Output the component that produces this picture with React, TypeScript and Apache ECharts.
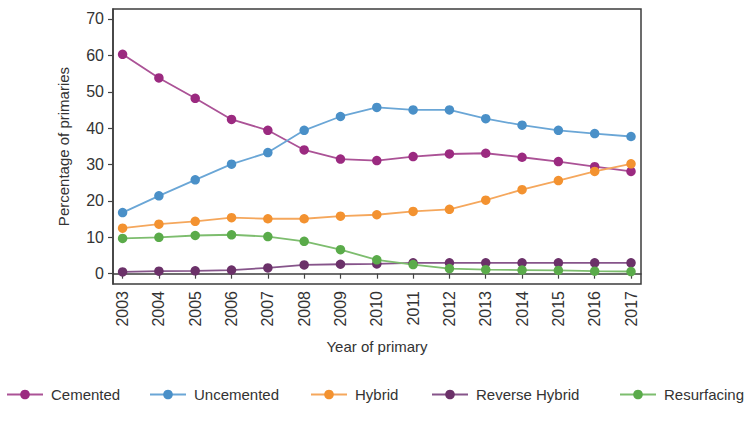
import React, { useEffect, useRef } from "react";
import * as echarts from "echarts";

const years = [2003, 2004, 2005, 2006, 2007, 2008, 2009, 2010, 2011, 2012, 2013, 2014, 2015, 2016, 2017];
const yTicks = [0, 10, 20, 30, 40, 50, 60, 70];

const seriesNames = ["Cemented", "Uncemented", "Hybrid", "Reverse Hybrid", "Resurfacing"];
const cemented = [60.3, 53.8, 48.2, 42.4, 39.4, 34.0, 31.5, 31.1, 32.2, 32.9, 33.1, 32.0, 30.8, 29.4, 28.1];
const uncemented = [16.8, 21.4, 25.8, 30.1, 33.3, 39.4, 43.2, 45.7, 45.0, 45.0, 42.6, 40.8, 39.4, 38.5, 37.7];
const hybrid = [12.5, 13.6, 14.4, 15.4, 15.1, 15.1, 15.8, 16.2, 17.1, 17.7, 20.2, 23.1, 25.6, 28.1, 30.2];
const reverseHybrid = [0.5, 0.7, 0.8, 1.0, 1.6, 2.4, 2.6, 2.7, 3.0, 3.0, 3.0, 3.0, 3.0, 3.0, 3.0];
const resurfacing = [9.7, 10.0, 10.5, 10.7, 10.2, 8.9, 6.6, 3.8, 2.5, 1.4, 1.1, 1.0, 0.9, 0.7, 0.6];

const seriesValues = [cemented, uncemented, hybrid, reverseHybrid, resurfacing];
const markerColors = ["#9b2a80", "#4a90c8", "#f39230", "#6b3169", "#5aab4a"];
const lineColors = ["#ab5296", "#6aa6d6", "#f5a75c", "#86548a", "#7dbd6e"];
const legendLefts = [6, 149, 310, 431, 619];

export default function App() {
  const ref = useRef<HTMLDivElement>(null);

  useEffect(() => {
    if (!ref.current) return;
    const chart = echarts.init(ref.current, null, { renderer: "svg" });
    const font = "'Liberation Sans', Arial, Helvetica, sans-serif";

    const series = seriesNames.map((name, i) => ({
      name,
      type: "line",
      data: years.map((y, j) => [y, seriesValues[i][j]]),
      symbol: "circle",
      symbolSize: 9.5,
      itemStyle: { color: markerColors[i] },
      lineStyle: { color: lineColors[i], width: 1.8 },
      emphasis: { disabled: true },
    }));

    const legends = seriesNames.map((name, i) => ({
      data: [name],
      left: legendLefts[i],
      top: 387,
      itemWidth: 36,
      itemHeight: 12,
      itemGap: 0,
      padding: 0,
      textStyle: { fontFamily: font, fontSize: 15, color: "#333", padding: [0, 0, 0, 3] },
    }));

    chart.setOption({
      animation: false,
      backgroundColor: "#ffffff",
      textStyle: { fontFamily: font },
      grid: {
        left: 113,
        right: 111,
        top: 9,
        bottom: 139,
        show: true,
        borderColor: "#3c3c3c",
        borderWidth: 1.5,
        backgroundColor: "transparent",
      },
      legend: legends,
      xAxis: {
        type: "value",
        min: 2002.736,
        max: 2017.275,
        name: "Year of primary",
        nameLocation: "middle",
        nameGap: 55,
        nameTextStyle: { fontFamily: font, fontSize: 15, color: "#333" },
        axisLine: { show: true, lineStyle: { color: "#3c3c3c", width: 1.5 } },
        axisTick: { show: true, length: 5, customValues: years, lineStyle: { color: "#444", width: 1.2 } },
        axisLabel: {
          customValues: years,
          rotate: 90,
          margin: 7,
          fontSize: 16,
          color: "#333",
          fontFamily: font,
          formatter: (v: number) => String(Math.round(v)),
        },
        splitLine: { show: false },
      },
      yAxis: {
        type: "value",
        min: -2.83,
        max: 72.74,
        name: "Percentage of primaries",
        nameLocation: "middle",
        nameGap: 42,
        nameTextStyle: { fontFamily: font, fontSize: 15, color: "#333" },
        axisLine: { show: true, lineStyle: { color: "#3c3c3c", width: 1.5 } },
        axisTick: { show: true, length: 5, customValues: yTicks, lineStyle: { color: "#444", width: 1.2 } },
        axisLabel: {
          customValues: yTicks,
          margin: 9,
          fontSize: 16,
          color: "#333",
          fontFamily: font,
        },
        splitLine: { show: false },
      },
      series,
    });

    return () => chart.dispose();
  }, []);

  return (
    <div
      ref={ref}
      style={{ position: "fixed", left: 0, top: 0, width: 752, height: 423, background: "#fff" }}
    />
  );
}
